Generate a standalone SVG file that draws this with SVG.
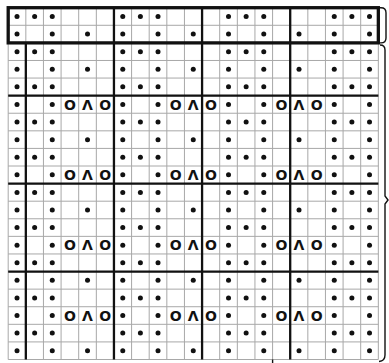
<svg xmlns="http://www.w3.org/2000/svg" xmlns:xlink="http://www.w3.org/1999/xlink" width="389" height="363" viewBox="0 0 389 363">
<style>
.thin{stroke:#a8a8a8;stroke-width:1;fill:none}
.thick{stroke:#111;stroke-width:2.3;fill:none}
.box{stroke:#111;stroke-width:3.3;fill:none}
.br{stroke:#111;stroke-width:1.4;fill:none}
.sym{font-family:"DejaVu Sans",sans-serif;font-weight:bold;font-size:14px;fill:#111;text-anchor:middle}
.dot{fill:#111}
</style>
<defs>
<g id="rowA" class="dot">
<circle cx="17.01" cy="0" r="2.5"/><circle cx="34.64" cy="0" r="2.5"/><circle cx="52.26" cy="0" r="2.5"/>
<circle cx="122.76" cy="0" r="2.5"/><circle cx="140.39" cy="0" r="2.5"/><circle cx="158.01" cy="0" r="2.5"/>
<circle cx="228.51" cy="0" r="2.5"/><circle cx="246.14" cy="0" r="2.5"/><circle cx="263.76" cy="0" r="2.5"/>
<circle cx="334.26" cy="0" r="2.5"/><circle cx="351.89" cy="0" r="2.5"/><circle cx="369.51" cy="0" r="2.5"/>
</g>
<g id="rowB" class="dot">
<circle cx="17.01" cy="0" r="2.5"/><circle cx="52.26" cy="0" r="2.5"/><circle cx="87.51" cy="0" r="2.5"/>
<circle cx="122.76" cy="0" r="2.5"/><circle cx="158.01" cy="0" r="2.5"/><circle cx="193.26" cy="0" r="2.5"/>
<circle cx="228.51" cy="0" r="2.5"/><circle cx="263.76" cy="0" r="2.5"/><circle cx="299.01" cy="0" r="2.5"/>
<circle cx="334.26" cy="0" r="2.5"/><circle cx="369.51" cy="0" r="2.5"/>
</g>
<g id="rowC" class="dot">
<circle cx="17.01" cy="0" r="2.5"/><circle cx="52.26" cy="0" r="2.5"/>
<circle cx="122.76" cy="0" r="2.5"/><circle cx="158.01" cy="0" r="2.5"/>
<circle cx="228.51" cy="0" r="2.5"/><circle cx="263.76" cy="0" r="2.5"/>
<circle cx="334.26" cy="0" r="2.5"/><circle cx="369.51" cy="0" r="2.5"/>
</g>
</defs>
<rect x="0" y="0" width="389" height="363" fill="#fff"/>
<g id="grid">
<path class="thin" d="M8.2,7.7V359.5M25.83,7.7V359.5M43.45,7.7V359.5M61.08,7.7V359.5M78.7,7.7V359.5M96.33,7.7V359.5M113.95,7.7V359.5M131.58,7.7V359.5M149.2,7.7V359.5M166.83,7.7V359.5M184.45,7.7V359.5M202.08,7.7V359.5M219.7,7.7V359.5M237.33,7.7V359.5M254.95,7.7V359.5M272.58,7.7V359.5M290.2,7.7V359.5M307.83,7.7V359.5M325.45,7.7V359.5M343.08,7.7V359.5M360.7,7.7V359.5M378.33,7.7V359.5"/>
<path class="thin" d="M8.2,7.7H378.33M8.2,25.29H378.33M8.2,42.88H378.33M8.2,60.47H378.33M8.2,78.06H378.33M8.2,95.65H378.33M8.2,113.24H378.33M8.2,130.83H378.33M8.2,148.42H378.33M8.2,166.01H378.33M8.2,183.6H378.33M8.2,201.19H378.33M8.2,218.78H378.33M8.2,236.37H378.33M8.2,253.96H378.33M8.2,271.55H378.33M8.2,289.14H378.33M8.2,306.73H378.33M8.2,324.32H378.33M8.2,341.91H378.33M8.2,359.5H378.33"/>
</g>
<g id="dividers">
<path class="thick" d="M25.83,42.88V359.5M113.95,7.7V359.5M202.08,7.7V359.5M290.2,7.7V359.5"/>
<path class="thick" d="M8.2,95.65H378.33M8.2,183.6H378.33M8.2,271.55H378.33"/>
<rect class="box" x="8.2" y="7.7" width="370.13" height="35.18"/>
</g>
<g id="stitches">
<use href="#rowA" y="16.5"/>
<use href="#rowB" y="34.09"/>
<use href="#rowA" y="51.68"/>
<use href="#rowB" y="69.27"/>
<use href="#rowA" y="86.86"/>
<use href="#rowC" y="104.45"/>
<use href="#rowA" y="122.04"/>
<use href="#rowB" y="139.63"/>
<use href="#rowA" y="157.22"/>
<use href="#rowC" y="174.81"/>
<use href="#rowA" y="192.4"/>
<use href="#rowB" y="209.99"/>
<use href="#rowA" y="227.58"/>
<use href="#rowC" y="245.17"/>
<use href="#rowA" y="262.76"/>
<use href="#rowB" y="280.35"/>
<use href="#rowA" y="297.94"/>
<use href="#rowC" y="315.53"/>
<use href="#rowA" y="333.12"/>
<use href="#rowB" y="350.71"/>
</g>
<g id="symbols" class="sym">
<text class="sym" x="69.89 87.51 105.14" y="109.55">OΛO</text>
<text class="sym" x="175.64 193.26 210.89" y="109.55">OΛO</text>
<text class="sym" x="281.39 299.01 316.64" y="109.55">OΛO</text>
<text class="sym" x="69.89 87.51 105.14" y="179.91">OΛO</text>
<text class="sym" x="175.64 193.26 210.89" y="179.91">OΛO</text>
<text class="sym" x="281.39 299.01 316.64" y="179.91">OΛO</text>
<text class="sym" x="69.89 87.51 105.14" y="250.27">OΛO</text>
<text class="sym" x="175.64 193.26 210.89" y="250.27">OΛO</text>
<text class="sym" x="281.39 299.01 316.64" y="250.27">OΛO</text>
<text class="sym" x="69.89 87.51 105.14" y="320.63">OΛO</text>
<text class="sym" x="175.64 193.26 210.89" y="320.63">OΛO</text>
<text class="sym" x="281.39 299.01 316.64" y="320.63">OΛO</text>
</g>
<g id="brackets">
<path class="br" d="M378.33,7.7H381Q386,7.7 386,12.7V38Q386,42.88 381,42.88H378.33"/>
<path class="br" d="M380,45Q385,45 385,50V196L388,200L385,204V355Q385,361 379,361.5"/>
<path class="br" d="M272.6,359.5V363"/>
</g>
</svg>
